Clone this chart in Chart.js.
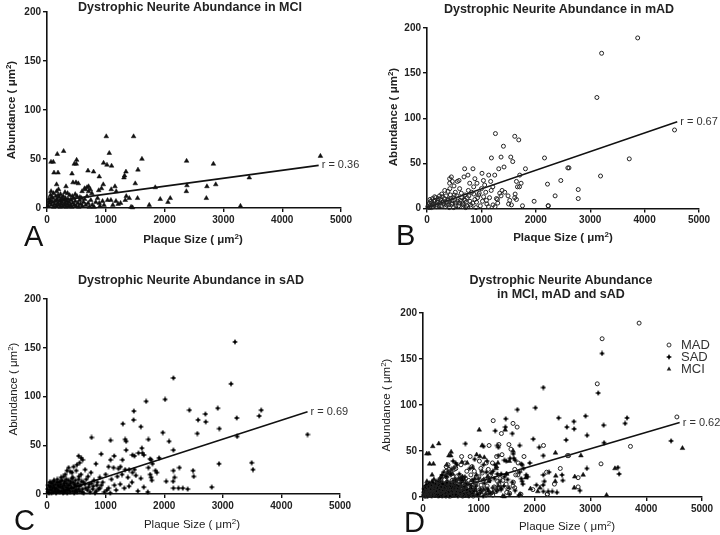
<!DOCTYPE html>
<html>
<head>
<meta charset="utf-8">
<script src="https://cdn.jsdelivr.net/npm/chart.js@4/dist/chart.umd.min.js"></script>
<style>
  body { margin: 0; background: #fff; }
  #wrap { position: relative; width: 720px; height: 535px; overflow: hidden; font-family: "Liberation Sans", Arial, sans-serif; color: #222; }
  canvas { position: absolute; }
  .t { position: absolute; white-space: nowrap; transform: translate(-50%, -50%); }
  .title { font-weight: bold; font-size: 12.5px; text-align: center; line-height: 14px; }
  .ax { font-size: 11.5px; }
  .bold { font-weight: bold; }
  .rot { transform: translate(-50%, -50%) rotate(-90deg); }
  .letter { position: absolute; font-size: 29px; line-height: 29px; color: #111; }
  sup { font-size: 8px; vertical-align: 4px; }
</style>
</head>
<body>
<div id="wrap">
  <canvas id="cA" width="360" height="267" style="left:0;top:0"></canvas>
  <canvas id="cB" width="360" height="267" style="left:360px;top:0"></canvas>
  <canvas id="cC" width="360" height="268" style="left:0;top:267px"></canvas>
  <canvas id="cD" width="360" height="268" style="left:360px;top:267px"></canvas>

  <div class="t title" style="left:190px;top:7px">Dystrophic Neurite Abundance in MCI</div>
  <div class="t title" style="left:559px;top:9px">Dystrophic Neurite Abundance in mAD</div>
  <div class="t title" style="left:191px;top:280px">Dystrophic Neurite Abundance in sAD</div>
  <div class="t title" style="left:561px;top:287px">Dystrophic Neurite Abundance<br>in MCI, mAD and sAD</div>

  <div class="t ax bold" style="left:193px;top:238px">Plaque Size ( &mu;m<sup>2</sup>)</div>
  <div class="t ax bold rot" style="left:10px;top:110px">Abundance ( &mu;m<sup>2</sup>)</div>
  <div class="t ax bold" style="left:563px;top:236px">Plaque Size ( &mu;m<sup>2</sup>)</div>
  <div class="t ax bold rot" style="left:392px;top:117px">Abundance ( &mu;m<sup>2</sup>)</div>
  <div class="t ax" style="left:192px;top:523px">Plaque Size ( &mu;m<sup>2</sup>)</div>
  <div class="t ax rot" style="left:12px;top:389px">Abundance ( &mu;m<sup>2</sup>)</div>
  <div class="t ax" style="left:567px;top:525px">Plaque Size ( &mu;m<sup>2</sup>)</div>
  <div class="t ax rot" style="left:385px;top:405px">Abundance ( &mu;m<sup>2</sup>)</div>

  <div class="letter" style="left:24px;top:222px">A</div>
  <div class="letter" style="left:396px;top:221px">B</div>
  <div class="letter" style="left:14px;top:506px">C</div>
  <div class="letter" style="left:404px;top:508px">D</div>
</div>
<script>
// plaque size (um2), abundance (um2)
const mciPoints = [
  [1008,73],[1473,73],[1059,56],[283,58],[175,55],[68,47],[107,47],[504,49],[464,45],[498,45],
  [962,46],[1020,44],[1098,43],[1615,50],[2374,48],[2830,45],[697,38],[792,37],[119,36],[187,36],
  [425,35],[1343,37],[1319,33],[1309,31],[1547,39],[889,32],[163,24],[442,26],[493,26],[532,25],
  [323,22],[680,21],[707,22],[651,19],[957,24],[1156,22],[927,20],[880,18],[1501,25],[1841,21],
  [2380,23],[2370,17],[2720,22],[2870,24],[2710,10],[3440,31],[4650,53],[3290,2],[70,17],[196,19],
  [163,17],[596,17],[640,20],[707,17],[736,19],[763,15],[1092,19],[1177,17],[306,16],[1348,12],
  [1399,10],[1331,8],[1540,10],[1926,9],[2096,10],[2057,6],[1739,3],[1455,0.5],[1251,5],[1173,7],
  [1087,8],[1030,8],[945,7],[889,5],
  [20,2],[40,5],[55,8],[75,3],[90,6],[100,10],[115,1],[130,4],[140,7],[150,12],
  [160,2],[170,9],[185,5],[195,3],[205,11],[215,7],[225,1],[235,4],[245,9],[255,6],
  [265,2],[275,12],[285,8],[295,3],[305,5],[315,10],[325,1],[335,7],[345,4],[355,9],
  [365,2],[375,6],[385,13],[395,3],[410,8],[420,1],[435,5],[450,10],[465,3],[480,7],
  [495,2],[510,12],[525,5],[540,1],[555,8],[570,4],[585,10],[600,2],[620,6],[640,9],
  [660,3],[680,12],[700,5],[720,1],[745,8],[770,3],[800,1],[830,6],[860,10],[900,2],
  [970,3],[1120,3],[1210,4],[1430,1],[60,13],[110,15],[230,14],[350,15],[480,14],[30,9],
  [80,11],[190,13],[260,10],[430,12],[560,11]
];
const madPoints = [
  [3873,189],[3210,172],[3123,123],[3718,55],[3190,36],[4550,87],[2780,21],[2780,11],[2610,45],[2230,3],
  [1258,83],[1613,80],[1687,76],[1405,69],[1184,56],[1361,57],[1540,57],[1576,52],[2160,56],[2589,45],
  [1416,46],[1319,44],[1245,37],[1134,37],[1810,44],[1705,37],[845,44],[1011,39],[1037,31],[919,28],
  [858,24],[785,28],[2460,31],[2215,27],[2355,14],[1644,30],[1663,24],[1613,12],[1644,10],[1380,20],
  [1429,18],[1337,17],[1276,11],[1295,10],[1361,14],[1490,14],[1521,9],[1552,4],[1214,4],[1092,9],
  [1755,3],[1969,8],[2227,3],[753,37],[680,35],[692,44],[588,31],[558,30],[448,35],[416,33],
  [496,25],[326,20],[416,28],[466,30],[385,19],
  [1170,30],[1000,22],[1080,18],[950,15],[1150,12],[1020,8],[880,10],[820,18],[760,20],[700,15],
  [640,12],[600,22],[560,8],[520,18],[480,12],[450,5],[420,22],[380,10],[350,14],[300,8],
  [270,16],[240,6],[210,11],[180,4],[150,9],[120,2],[90,6],[60,3],[40,1],[1100,5],
  [1250,2],[980,3],[1300,6],[900,1],[800,4],[720,7],[660,2],[1180,20],[1060,26],[880,33],
  [960,17],[1210,24],[1500,5],[1620,16],[1700,24],[1730,28],
  [30,4],[70,8],[100,11],[130,5],[160,12],[190,7],[220,3],[250,10],[280,13],[310,5],
  [340,2],[370,7],[400,4],[430,15],[460,9],[490,1],[520,6],[550,14],[580,3],[610,9],
  [650,5],[680,10],[710,1],[740,12],[790,8],[840,6],[930,12],
  [15,2],[45,6],[55,10],[80,1],[110,4],[125,8],[140,13],[170,2],[200,9],[230,14],
  [260,3],[290,7],[320,11],[355,4],[390,9],[410,1],[440,11],[470,6],[500,15],[530,3],
  [570,10],[600,6],[630,17],[670,4],[700,9],[730,3],[770,14],[810,2],[860,16],[910,7],
  [1040,13],[1130,2]
];
const sadPoints = [
  [3208,156],[3140,113],[2157,119],[1692,95],[2015,97],[2430,86],[1482,85],[1477,76],[1294,72],[1601,69],
  [1976,63],[760,58],[1084,55],[1334,56],[1351,54],[1731,56],[2083,54],[1351,45],[1459,40],[1493,39],
  [1561,42],[1618,47],[1652,40],[1629,42],[2157,45],[1913,37],[1760,36],[1777,35],[1800,31],[2157,24],
  [2259,27],[1851,24],[1874,22],[1493,25],[1516,19],[1731,27],[1760,20],[1777,17],[1788,14],[2492,24],
  [2504,18],[2176,17],[2153,13],[2034,13],[2244,6],[2317,6],[2157,6],[2400,5],[835,31],[925,41],
  [1084,35],[1050,28],[1147,39],[1288,35],[1135,27],[1220,26],[1254,28],[1334,25],[1402,25],[1459,22],
  [2913,88],[3656,86],[3622,80],[3237,78],[2703,82],[2578,76],[2709,74],[2941,67],[2566,62],[3245,59],
  [4446,61],[2936,31],[3492,32],[3515,25],[2811,7],
  [539,39],[584,37],[607,35],[556,32],[511,30],[454,28],[369,27],[341,24],[397,23],[426,22],
  [312,20],[283,18],
  [1200,18],[1100,15],[1000,20],[950,12],[900,17],[850,9],[1250,10],[1320,6],[1400,8],[1450,12],
  [1550,3],[1650,7],[1720,2],[1180,4],[1050,6],[980,2],[800,14],[750,22],[700,18],[650,25],
  [620,12],[580,20],[540,15],[500,24],[470,10],[440,17],[400,13],[360,9],[330,15],[290,11],
  [260,6],[230,13],[200,8],[170,12],[140,5],[110,9],[80,4],[50,7],[20,2],[60,12],
  [120,14],[180,3],[240,17],[300,2],[350,4],[420,6],[480,3],[550,8],[600,2],[660,6],
  [720,10],[780,5],[840,3],[900,6],[1600,16],[1380,17],[1280,20],
  [10,5],[25,9],[35,1],[45,12],[55,4],[65,8],[75,1],[85,11],[95,6],[105,2],
  [115,13],[125,7],[135,3],[145,10],[155,1],[165,6],[175,15],[185,9],[195,4],[205,12],
  [215,2],[225,7],[235,10],[245,3],[255,14],[265,8],[275,1],[285,5],[295,9],[305,13],
  [315,3],[325,7],[335,11],[345,1],[355,6],[365,14],[375,4],[385,9],[395,2],[405,11],
  [415,7],[425,16],[435,3],[445,12],[455,6],[465,1],[475,9],[485,14],[495,4],[505,8],
  [515,2],[525,11],[535,5],[545,18],[560,3],[575,9],[590,13],[605,5],[625,1],[645,10],
  [670,15],[690,4],[710,7],[735,2],[760,11],[790,8],[820,1],[860,12],[880,5],[930,9],
  [1020,4],[1080,1],[1150,9]
];

// regression lines, end points
const fitMci = [[0,6],[4620,43.5]];
const fitMad = [[0,1],[4600,96]];
const fitSad = [[108,0],[4446,84.4]];
const fitAll = [[62,0],[4600,81]];
const rTexts = ['r = 0.36', 'r = 0.67', 'r = 0.69', 'r = 0.62'];
const legendNames = ['MAD', 'SAD', 'MCI'];

const xTicks = [0, 1000, 2000, 3000, 4000, 5000];
const yTicks = [0, 50, 100, 150, 200];

const toXY = pts => pts.map(p => ({ x: p[0], y: p[1] }));
const FONT = '"Liberation Sans", Arial, sans-serif';

// small 4-point star for the sAD marker
const star = document.createElement('canvas');
star.width = 6; star.height = 6;
const sc = star.getContext('2d');
sc.fillStyle = '#000';
sc.beginPath();
sc.moveTo(3, 0); sc.lineTo(4, 2); sc.lineTo(6, 3); sc.lineTo(4, 4);
sc.lineTo(3, 6); sc.lineTo(2, 4); sc.lineTo(0, 3); sc.lineTo(2, 2);
sc.closePath();
sc.fill();
sc.fillRect(2, 2, 2, 2);

const markStyle = {
  mci: { pointStyle: 'triangle', pointRadius: 2.7, pointBackgroundColor: '#111', pointBorderColor: '#111', pointBorderWidth: 0.5 },
  mad: { pointStyle: 'circle', pointRadius: 2, pointBackgroundColor: 'rgba(255,255,255,0)', pointBorderColor: '#222', pointBorderWidth: 1 },
  sad: { pointStyle: star, pointRadius: 3, pointBackgroundColor: '#000', pointBorderColor: '#000' }
};

function scatterSet(label, pts, style) {
  return Object.assign({ type: 'scatter', label: label, data: toXY(pts), clip: false, showLine: false }, style);
}
function fitSet(pts, rText) {
  return { type: 'line', data: toXY(pts), borderColor: '#111', borderWidth: 1.6, pointRadius: 0, fill: false, rText: rText };
}

const annot = {
  id: 'annot',
  afterDatasetsDraw(chart, args, opts) {
    const ctx = chart.ctx;
    chart.data.datasets.forEach((ds, i) => {
      if (!ds.rText) return;
      const pts = chart.getDatasetMeta(i).data;
      const end = pts[pts.length - 1];
      ctx.save();
      ctx.font = '11px ' + FONT;
      ctx.fillStyle = '#333';
      ctx.textBaseline = 'middle';
      ctx.fillText(ds.rText, end.x + 3, end.y);
      ctx.restore();
    });
    if (!opts.legend) return;
    const lx = opts.legend.x, ly = opts.legend.y;
    opts.legend.items.forEach((it, k) => {
      const y = ly + k * 12;
      ctx.save();
      ctx.fillStyle = '#222'; ctx.strokeStyle = '#333'; ctx.lineWidth = 1;
      if (it.kind === 'mad') {
        ctx.beginPath(); ctx.arc(lx, y, 2, 0, Math.PI * 2); ctx.stroke();
      } else if (it.kind === 'sad') {
        ctx.drawImage(star, lx - 3, y - 3);
      } else {
        ctx.beginPath(); ctx.moveTo(lx, y - 2.6); ctx.lineTo(lx + 2.3, y + 1.4); ctx.lineTo(lx - 2.3, y + 1.4); ctx.closePath(); ctx.fill();
      }
      ctx.font = '13px ' + FONT;
      ctx.fillStyle = '#333';
      ctx.textBaseline = 'middle';
      ctx.fillText(it.name, lx + 12, y);
      ctx.restore();
    });
  }
};

function makeChart(id, datasets, box, legend) {
  const axisBase = {
    type: 'linear',
    border: { display: true, color: '#111', width: 1.6 },
    grid: { display: true, drawOnChartArea: false, drawTicks: true, tickLength: 4, color: '#111', lineWidth: 1.4 },
    ticks: { color: '#222', font: { family: FONT, size: 10, weight: 'bold' }, maxRotation: 0, autoSkip: false,
      callback: v => String(v) }
  };
  return new Chart(document.getElementById(id), {
    data: { datasets: datasets },
    options: {
      responsive: false,
      animation: false,
      events: [],
      layout: { padding: { left: 0, top: box.top, right: box.right, bottom: 0 } },
      plugins: { legend: { display: false }, tooltip: { enabled: false }, annot: { legend: legend } },
      scales: {
        x: Object.assign({}, axisBase, {
          min: xTicks[0], max: xTicks[xTicks.length - 1],
          ticks: Object.assign({}, axisBase.ticks, { stepSize: xTicks[1] - xTicks[0], padding: 2 }),
          afterFit(s) { s.height = box.xH; }
        }),
        y: Object.assign({}, axisBase, {
          min: yTicks[0], max: yTicks[yTicks.length - 1],
          ticks: Object.assign({}, axisBase.ticks, { stepSize: yTicks[1] - yTicks[0], padding: 2 }),
          afterFit(s) { s.width = box.yW; }
        })
      }
    },
    plugins: [annot]
  });
}

makeChart('cA', [scatterSet('MCI', mciPoints, markStyle.mci), fitSet(fitMci, rTexts[0])],
  { top: 12, right: 19, yW: 47, xH: 59 });
makeChart('cB', [scatterSet('MAD', madPoints, markStyle.mad), fitSet(fitMad, rTexts[1])],
  { top: 28, right: 21, yW: 67, xH: 58.5 });
makeChart('cC', [scatterSet('SAD', sadPoints, markStyle.sad), fitSet(fitSad, rTexts[2])],
  { top: 32, right: 20, yW: 47, xH: 41 });
makeChart('cD', [
    scatterSet('MAD', madPoints, markStyle.mad),
    scatterSet('SAD', sadPoints, markStyle.sad),
    scatterSet('MCI', mciPoints, markStyle.mci),
    fitSet(fitAll, rTexts[3])
  ],
  { top: 46, right: 18, yW: 63, xH: 38 },
  { x: 309, y: 78, items: [{ name: legendNames[0], kind: 'mad' }, { name: legendNames[1], kind: 'sad' }, { name: legendNames[2], kind: 'mci' }] });
</script>
</body>
</html>
